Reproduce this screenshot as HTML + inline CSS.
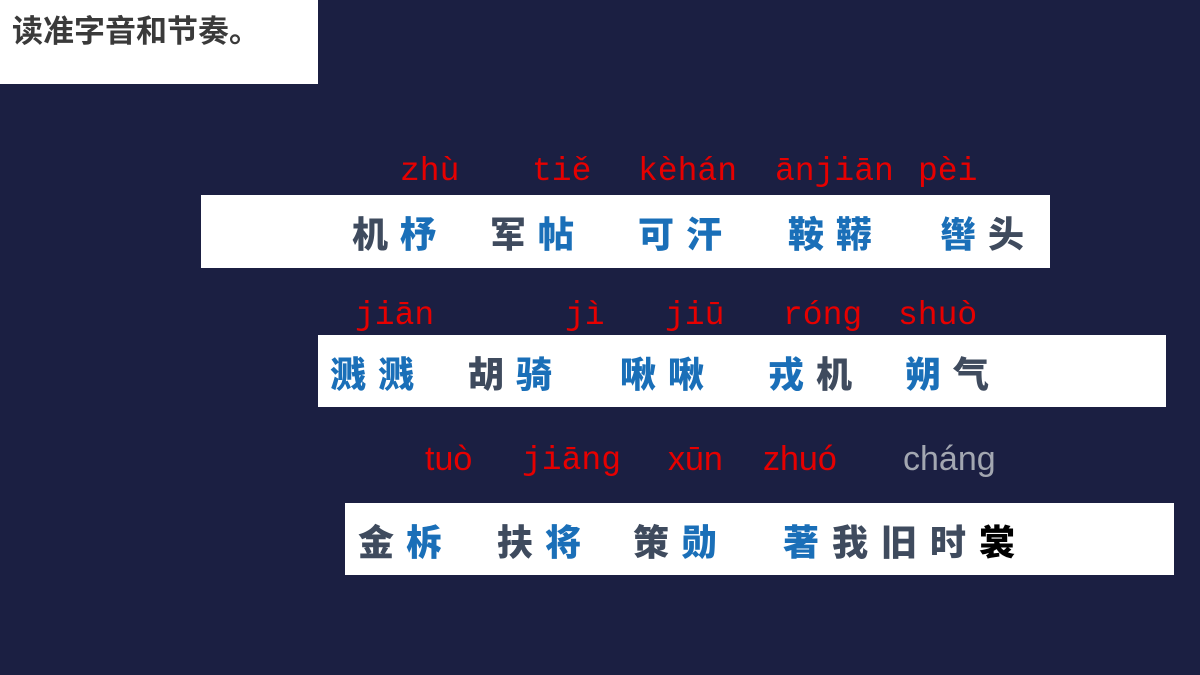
<!DOCTYPE html>
<html><head><meta charset="utf-8"><style>
body{margin:0;width:1200px;height:675px;background:#1b1f42;position:relative;overflow:hidden;font-family:"Liberation Sans","Noto Sans CJK SC",sans-serif}
.b{position:absolute;background:#fff}
.p{position:absolute;color:#e60000;font-family:"Liberation Mono",monospace;font-size:33px;line-height:1;white-space:pre}
.q{position:absolute;color:#e60000;font-size:34px;line-height:1;white-space:pre}
.c{position:absolute;font-family:"Noto Sans CJK SC",sans-serif;font-weight:900;font-size:36px;line-height:1;white-space:pre;letter-spacing:12px}
.d{color:#3f4b5e}.u{color:#1a6fb8}.k{color:#000}
</style></head><body>
<div class="b" style="left:0;top:0;width:318px;height:84px"></div>
<div style="position:absolute;left:12px;top:15px;font-size:31px;font-weight:bold;color:#3a3a3a;font-family:'Liberation Sans','Noto Sans CJK SC',sans-serif;line-height:1.1">读准字音和节奏。</div>

<div class="b" style="left:201px;top:195px;width:849px;height:73px"></div>
<div class="b" style="left:318px;top:335px;width:848px;height:72px"></div>
<div class="b" style="left:345px;top:503px;width:829px;height:72px"></div>

<div class="p" style="left:400px;top:155px">zhù</div>
<div class="p" style="left:532px;top:155px">tiě</div>
<div class="p" style="left:638px;top:155px">kèhán</div>
<div class="p" style="left:775px;top:155px">ānjiān</div>
<div class="p" style="left:918px;top:155px">pèi</div>

<div class="c" style="left:352px;top:214px"><span class="d">机</span><span class="u">杼</span></div>
<div class="c" style="left:490px;top:214px"><span class="d">军</span><span class="u">帖</span></div>
<div class="c" style="left:638px;top:214px"><span class="u">可汗</span></div>
<div class="c" style="left:788px;top:214px"><span class="u">鞍鞯</span></div>
<div class="c" style="left:940px;top:214px"><span class="u">辔</span><span class="d">头</span></div>

<div class="p" style="left:355px;top:299px">jiān</div>
<div class="p" style="left:565px;top:299px">jì</div>
<div class="p" style="left:665px;top:299px">jiū</div>
<div class="p" style="left:783px;top:299px">róng</div>
<div class="p" style="left:898px;top:299px">shuò</div>

<div class="c" style="left:330px;top:354px"><span class="u">溅溅</span></div>
<div class="c" style="left:468px;top:354px"><span class="d">胡</span><span class="u">骑</span></div>
<div class="c" style="left:620px;top:354px"><span class="u">啾啾</span></div>
<div class="c" style="left:768px;top:354px"><span class="u">戎</span><span class="d">机</span></div>
<div class="c" style="left:905px;top:354px"><span class="u">朔</span><span class="d">气</span></div>

<div class="q" style="left:425px;top:442px">tuò</div>
<div class="p" style="left:522px;top:444px">jiāng</div>
<div class="q" style="left:668px;top:442px">xūn</div>
<div class="q" style="left:763px;top:442px">zhuó</div>
<div class="q" style="left:903px;top:442px;color:#a3a7b1">cháng</div>

<div class="c" style="left:358px;top:522px"><span class="d">金</span><span class="u">柝</span></div>
<div class="c" style="left:497px;top:522px"><span class="d">扶</span><span class="u">将</span></div>
<div class="c" style="left:633px;top:522px"><span class="d">策</span><span class="u">勋</span></div>
<div class="c" style="left:783px;top:522px;letter-spacing:13px"><span class="u">著</span><span class="d">我旧时</span><span class="k">裳</span></div>
</body></html>
